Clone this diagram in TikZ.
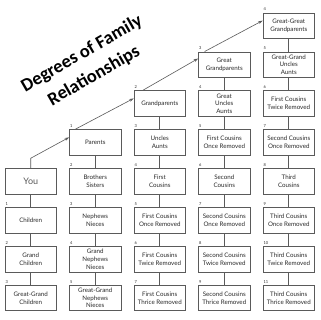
\documentclass[tikz,border=0pt]{standalone}
\usepackage{fontspec}
\newfontfamily\boxfamily{Lato}
\newfontfamily\titlefamily{Carlito}
\usetikzlibrary{arrows.meta}
\definecolor{boxgray}{HTML}{5A5A5A}
\definecolor{txtgray}{HTML}{2A2A2A}
\begin{document}
\begin{tikzpicture}[x=1pt,y=-1pt,
  famblock/.style={draw=boxgray, line width=0.75pt, minimum width=51.5pt, minimum height=25.5pt,
    inner sep=0.5pt, align=center, text=txtgray,
    font=\boxfamily\fontsize{6.2}{7.6}\selectfont},
  numlab/.style={font=\boxfamily\fontsize{4}{4}\selectfont, anchor=south west, inner sep=0pt, text=txtgray},
  link/.style={draw=boxgray, line width=0.6pt},
  arr/.style={draw=boxgray, line width=0.6pt, -{Stealth[length=4.5pt,width=3pt]}},
  titletext/.style={font=\titlefamily\bfseries\fontsize{18.5}{24}\selectfont, rotate=30, text=black, inner sep=0pt}]
\fill[white] (0,0) rectangle (320,320);
\foreach \c/\r/\n/\t in {
  0/4//{\fontsize{9}{9}\selectfont\color{boxgray}You},
  0/5/1/Children, 0/6/2/Grand\\Children, 0/7/3/Great-Grand\\Children,
  1/3/1/Parents, 1/4/2/Brothers\\Sisters, 1/5/3/Nephews\\Nieces, 1/6/4/Grand\\Nephews\\Nieces, 1/7/5/Great-Grand\\Nephews\\Nieces,
  2/2/2/Grandparents, 2/3/3/Uncles\\Aunts, 2/4/4/First\\Cousins, 2/5/5/First Cousins\\Once Removed, 2/6/6/First Cousins\\Twice Removed, 2/7/7/First Cousins\\Thrice Removed,
  3/1/3/Great\\Grandparents, 3/2/4/Great\\Uncles\\Aunts, 3/3/5/First Cousins\\Once Removed, 3/4/6/Second\\Cousins, 3/5/7/Second Cousins\\Once Removed, 3/6/8/Second Cousins\\Twice Removed, 3/7/9/Second Cousins\\Thrice Removed,
  4/0/4/Great-Great\\Grandparents, 4/1/5/Great-Grand\\Uncles\\Aunts, 4/2/6/First Cousins\\Twice Removed, 4/3/7/Second Cousins\\Once Removed, 4/4/8/Third\\Cousins, 4/5/9/Third Cousins\\Once Removed, 4/6/10/Third Cousins\\Twice Removed, 4/7/11/Third Cousins\\Thrice Removed}
{
  \node[famblock] (b-\c-\r) at ({30.75+64.5*\c},{25.75+38.9*\r}) {\t};
  \node[numlab] (n-\c-\r) at ([xshift=0.8pt,yshift=1.6pt]b-\c-\r.north west) {\n};
}
\foreach \c/\s in {0/4,1/3,2/2,3/1,4/0}{
  \foreach \r in {\s,...,6}{
    \pgfmathtruncatemacro\rn{\r+1}
    \draw[link] (b-\c-\r.south) -- (b-\c-\rn.north);
  }
}
\coordinate (ybend) at ([yshift=10pt]b-0-4.north);
\draw[arr] (b-0-4.north) -- (ybend) -- ([yshift=-8pt]b-1-3.north west);
\draw[arr] ([xshift=6pt]b-1-3.north west) -- ([yshift=-8pt]b-2-2.north west);
\draw[arr] ([xshift=9pt]b-2-2.north west) -- ([yshift=-7pt]b-3-1.north west);
\draw[arr] ([xshift=6.5pt]b-3-1.north west) -- ([yshift=-8pt]b-4-0.north west);
\node[titletext] (title1) at (82,54) {Degrees of Family};
\node[titletext] (title2) at (94,76) {Relationships};
\end{tikzpicture}
\end{document}
